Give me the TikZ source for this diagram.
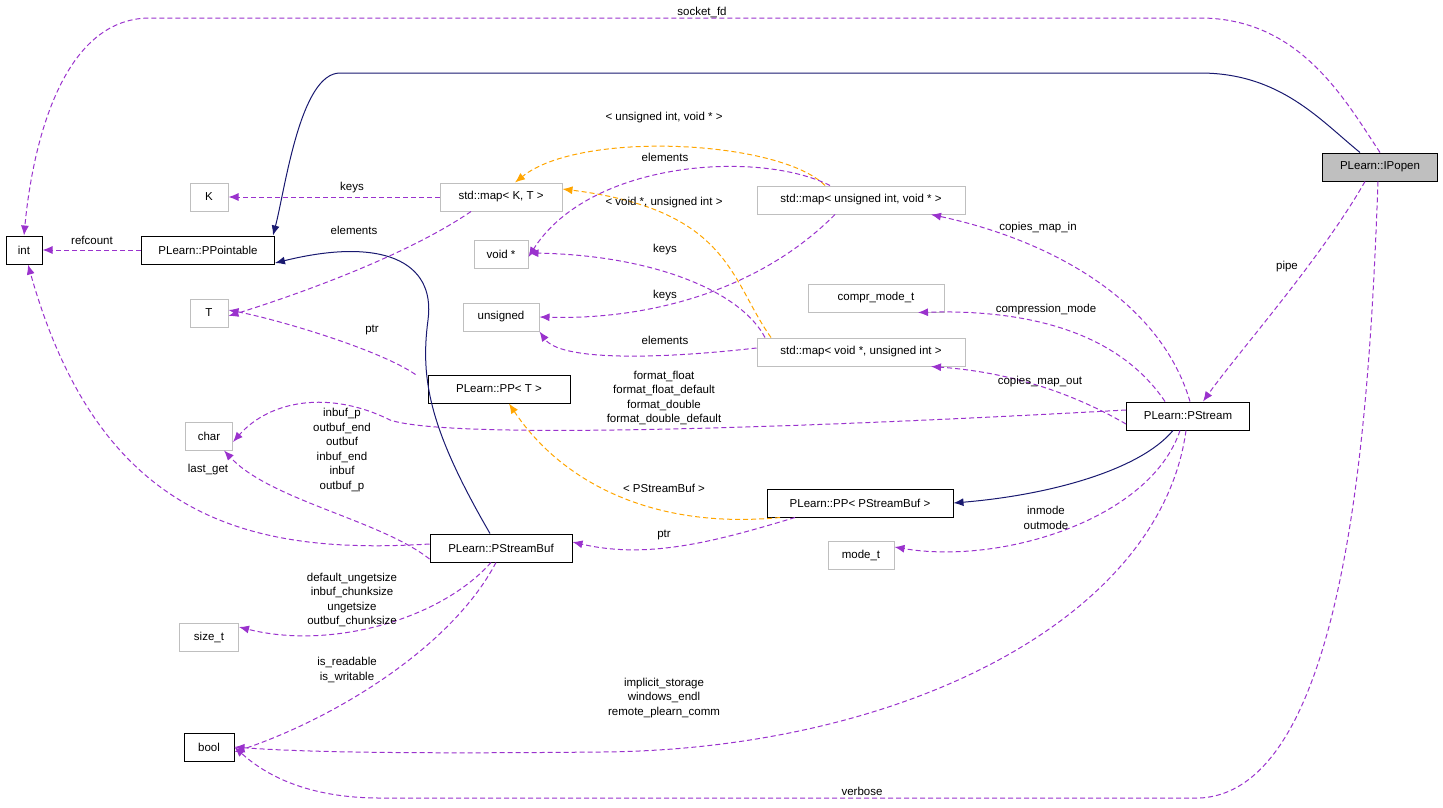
\documentclass[tikz,border=0pt]{standalone}
\usepackage{fontspec}
\setmainfont{Liberation Sans}
\usetikzlibrary{arrows.meta}
\definecolor{edgepurple}{HTML}{9A32CD}
\definecolor{edgeorange}{HTML}{FFA500}
\definecolor{edgenavy}{HTML}{191970}
\definecolor{boxgray}{HTML}{BFBFBF}
\tikzset{
  cls/.style={draw=black, line width=1pt, inner sep=0pt, minimum height=28pt},
  ext/.style={draw=boxgray, line width=1pt, inner sep=0pt, minimum height=28pt},
  usage/.style={->, edgepurple, dashed, line width=1pt, dash pattern=on 5pt off 3pt},
  tmpl/.style={->, edgeorange, dashed, line width=1pt, dash pattern=on 5pt off 3pt},
  inherit/.style={->, edgenavy, line width=1pt},
  lbl/.style={align=center, inner sep=0pt, font=\fontsize{11.5}{14.5}\selectfont},
  >={Latex[length=10pt,width=8pt]}
}
\begin{document}
\begin{tikzpicture}[x=1pt,y=-1pt,font=\fontsize{11.5}{14}\selectfont]
\useasboundingbox (0,0) rectangle (1443,807);
% Nodes
\node [cls, fill=boxgray, minimum width=115pt] (IPopen) at (1380,167) {PLearn::IPopen};
\node [cls, minimum width=36pt] (int) at (24,250) {int};
\node [cls, minimum width=133pt] (PPointable) at (208,250) {PLearn::PPointable};
\node [ext, minimum width=38pt] (K) at (209,197) {K};
\node [ext, minimum width=122pt] (mapKT) at (501,197) {std::map< K, T >};
\node [ext, minimum width=208pt] (mapUV) at (861,200) {std::map< unsigned int, void * >};
\node [ext, minimum width=54pt] (voidp) at (501,254) {void *};
\node [ext, minimum width=38pt] (T) at (209,313) {T};
\node [ext, minimum width=76pt] (unsigned) at (501,317) {unsigned};
\node [ext, minimum width=136pt] (compr) at (876,298) {compr\_mode\_t};
\node [ext, minimum width=208pt] (mapVU) at (861,352) {std::map< void *, unsigned int >};
\node [cls, minimum width=142pt] (PPT) at (499,389) {PLearn::PP< T >};
\node [cls, minimum width=123pt] (PStream) at (1188,416) {PLearn::PStream};
\node [ext, minimum width=47pt] (char) at (209,436) {char};
\node [cls, minimum width=186pt] (PPB) at (860,503) {PLearn::PP< PStreamBuf >};
\node [cls, minimum width=142pt] (PSB) at (501,548) {PLearn::PStreamBuf};
\node [ext, minimum width=66pt] (modet) at (861,555) {mode\_t};
\node [ext, minimum width=59pt] (sizet) at (209,637) {size\_t};
\node [cls, minimum width=50pt] (bool) at (209,747) {bool};
% Edges from IPopen
\draw [usage] (IPopen.north) .. controls (1345,100) and (1300,18) .. (1200,18) -- (150,18) .. controls (60,18) and (32,150) .. (int.north);
\draw [inherit] ([xshift=-20pt]IPopen.north) .. controls (1320,120) and (1280,73) .. (1200,73) -- (340,73) .. controls (300,73) and (285,190) .. ([xshift=65pt]PPointable.north);
\draw [usage] ([xshift=-15pt]IPopen.south) .. controls (1320,260) and (1240,350) .. ([xshift=15pt]PStream.north);
\draw [usage] ([xshift=-2pt]IPopen.south) .. controls (1370,400) and (1350,790) .. (1200,798) -- (380,798) .. controls (300,798) and (260,770) .. (bool.east);
\node [lbl] (l-socket) at (702,12) {socket\_fd};
\node [lbl] (l-pipe) at (1287,267) {pipe};
\node [lbl] (l-verbose) at (862,791) {verbose};
% Edges among maps
\draw [usage] (PPointable.west) -- (int.east);
\draw [usage] (mapKT.west) -- (K.east);
\draw [usage] ([xshift=-30pt]mapKT.south) .. controls (400,260) and (280,300) .. ([yshift=-3pt]T.east);
\draw [tmpl] ([xshift=-36pt]mapUV.north) .. controls (780,140) and (580,130) .. ([xshift=14pt]mapKT.north);
\draw [usage] ([xshift=-31pt]mapUV.north) .. controls (760,150) and (590,160) .. ([yshift=-3pt]voidp.east);
\draw [usage] ([xshift=-26pt]mapUV.south) .. controls (760,290) and (650,320) .. (unsigned.east);
\draw [tmpl] ([xshift=-90pt]mapVU.north) .. controls (730,280) and (730,210) .. ([yshift=8pt]mapKT.east);
\draw [usage] ([xshift=-96pt]mapVU.north) .. controls (740,290) and (650,255) .. ([yshift=1pt]voidp.east);
\draw [usage] ([yshift=4pt]mapVU.west) .. controls (650,360) and (560,360) .. (unsigned.south east);
\node [lbl] (l-keys1) at (352,188) {keys};
\node [lbl] (l-elem1) at (354,230) {elements};
\node [lbl] (l-tmpl1) at (664,118) {< unsigned int, void * >};
\node [lbl] (l-elem2) at (665,157) {elements};
\node [lbl] (l-tmpl2) at (664,203) {< void *, unsigned int >};
\node [lbl] (l-keys2) at (665,250) {keys};
\node [lbl] (l-keys3) at (665,296) {keys};
\node [lbl] (l-elem3) at (665,340) {elements};
% PP< T >
\draw [usage] ([xshift=-12pt]PPT.north west) .. controls (380,350) and (280,320) .. ([yshift=3pt]T.east);
\node [lbl] (l-ptr1) at (372,330) {ptr};
% Edges from PStream
\draw [usage] ([xshift=2pt]PStream.north) .. controls (1160,300) and (1050,240) .. ([xshift=70pt]mapUV.south);
\draw [usage] ([xshift=-23pt]PStream.north) .. controls (1110,320) and (1000,310) .. ([xshift=42pt]compr.south);
\draw [usage] ([yshift=-8pt]PStream.west) .. controls (1050,380) and (980,370) .. ([xshift=70pt]mapVU.south);
\draw [usage] ([yshift=6pt]PStream.west) .. controls (800,428) and (450,440) .. (390,420) .. controls (330,390) and (270,400) .. ([yshift=-6pt]char.east);
\draw [inherit] ([xshift=-15pt]PStream.south) .. controls (1140,470) and (1050,495) .. (PPB.east);
\draw [usage] ([xshift=-8pt]PStream.south) .. controls (1150,520) and (1000,565) .. ([yshift=8pt]modet.east);
\draw [usage] ([xshift=-2pt]PStream.south) .. controls (1160,620) and (900,750) .. (600,752) .. controls (400,754) and (300,752) .. (bool.east);
\node [lbl] (l-cin) at (1038,228) {copies\_map\_in};
\node [lbl] (l-compr) at (1046,310) {compression\_mode};
\node [lbl] (l-cout) at (1040,382) {copies\_map\_out};
\node [lbl] (l-format) at (664,398) {format\_float\\format\_float\_default\\format\_double\\format\_double\_default};
\node [lbl] (l-mode) at (1046,518) {inmode\\outmode};
\node [lbl] (l-impl) at (664,698) {implicit\_storage\\windows\_endl\\remote\_plearn\_comm};
% PP< PStreamBuf >
\draw [tmpl] ([xshift=-80pt]PPB.south) .. controls (650,530) and (560,480) .. ([xshift=10pt]PPT.south);
\draw [usage] ([xshift=-65pt]PPB.south) .. controls (720,540) and (650,560) .. ([yshift=6pt]PSB.east);
\node [lbl] (l-ppbuf) at (664,488) {< PStreamBuf >};
\node [lbl] (l-ptr2) at (664,535) {ptr};
% Edges from PStreamBuf
\draw [inherit] ([xshift=-11pt]PSB.north) .. controls (430,430) and (420,380) .. (428,320) .. controls (436,260) and (380,237) .. ([yshift=-13pt]PPointable.east);
\draw [usage] ([yshift=-11pt]PSB.west) .. controls (380,520) and (270,500) .. ([xshift=15pt]char.south);
\draw [usage] ([yshift=4pt]PSB.west) .. controls (250,555) and (100,520) .. ([xshift=4pt]int.south);
\draw [usage] ([xshift=-10pt]PSB.south) .. controls (440,620) and (330,650) .. ([yshift=10pt]sizet.east);
\draw [usage] ([xshift=-5pt]PSB.south) .. controls (450,650) and (330,720) .. ([yshift=-5pt]bool.east);
\node [lbl] (l-bufs) at (342,450) {inbuf\_p\\outbuf\_end\\outbuf\\inbuf\_end\\inbuf\\outbuf\_p};
\node [lbl] (l-lastget) at (208,470) {last\_get};
\node [lbl] (l-sizes) at (352,600) {default\_ungetsize\\inbuf\_chunksize\\ungetsize\\outbuf\_chunksize};
\node [lbl] (l-rw) at (347,670) {is\_readable\\is\_writable};
\node [lbl] (l-refcount) at (92,240) {refcount};
\end{tikzpicture}
\end{document}
